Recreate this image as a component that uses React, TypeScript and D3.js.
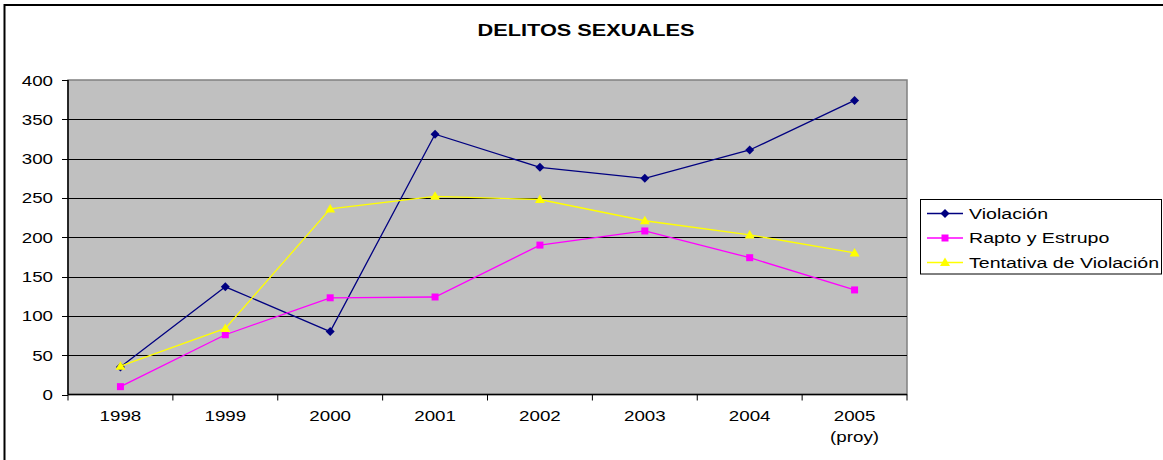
import React from "react";
import * as d3 from "d3";

const categories = ["1998", "1999", "2000", "2001", "2002", "2003", "2004", "2005"];
const categorySubLabels = ["", "", "", "", "", "", "", "(proy)"];
const violacion = [35, 137, 80, 331, 289, 275, 311, 374];
const raptoEstrupo = [10, 76, 123, 124, 190, 208, 174, 133];
const tentativa = [36, 84, 236, 252, 248, 221, 203, 180];
const yTicks = [0, 50, 100, 150, 200, 250, 300, 350, 400];
const seriesNames = ["Violación", "Rapto y Estrupo", "Tentativa de Violación"];
const chartTitle = "DELITOS SEXUALES";

const W = 1163;
const H = 460;
const SX = 1.34;
const FONT = "'Liberation Sans', Arial, sans-serif";

const plot = { left: 68, right: 907, top: 80, bottom: 394.5 };

function markerPath(kind: string): string {
  if (kind === "diamond") return "M0,-4.5L4.5,0L0,4.5L-4.5,0Z";
  if (kind === "square") return "M-3.5,-3.5H3.5V3.5H-3.5Z";
  return "M0,-5L5,3.5L-5,3.5Z";
}

function SText(props: {
  x: number;
  y: number;
  anchor?: string;
  size?: number;
  sx?: number;
  weight?: string | number;
  children: React.ReactNode;
}) {
  const { x, y, anchor = "start", size = 14, sx = SX, weight = "normal", children } = props;
  return (
    <text
      transform={`translate(${x},${y}) scale(${sx},1)`}
      textAnchor={anchor}
      fontFamily={FONT}
      fontSize={size}
      fontWeight={weight}
      fill="#000"
    >
      {children}
    </text>
  );
}

export default function App() {
  const x = d3.scaleBand<string>().domain(categories).range([plot.left, plot.right]).padding(0);
  const y = d3.scaleLinear().domain([0, 400]).range([plot.bottom, plot.top]);
  const cx = (c: string) => (x(c) as number) + x.bandwidth() / 2;

  const series = [
    { name: seriesNames[0], values: violacion, color: "#000080", marker: "diamond" },
    { name: seriesNames[1], values: raptoEstrupo, color: "#FF00FF", marker: "square" },
    { name: seriesNames[2], values: tentativa, color: "#FFFF00", marker: "triangle" },
  ];

  const line = d3
    .line<number>()
    .x((_, i) => cx(categories[i]))
    .y((d) => y(d));

  const boundaries = categories.map((c) => x(c) as number).concat([plot.right]);

  const legend = { x: 920.5, y: 199.5, w: 241, h: 74.5 };
  const legendRows = [213.5, 238, 262.5];

  return (
    <svg
      width={W}
      height={H}
      style={{ position: "absolute", left: 0, top: 0, background: "#fff" }}
    >
      <rect x={0} y={0} width={W} height={H} fill="#fff" />
      <rect x={4.5} y={5} width={W + 10} height={H + 10} fill="none" stroke="#000" strokeWidth={2} />

      <SText x={586} y={36} anchor="middle" size={16} sx={1.36} weight="bold">
        {chartTitle}
      </SText>

      {/* plot area */}
      <rect
        x={plot.left}
        y={plot.top}
        width={plot.right - plot.left}
        height={plot.bottom - plot.top}
        fill="#C0C0C0"
        stroke="#808080"
        strokeWidth={1.5}
      />
      {yTicks
        .filter((t) => t > 0 && t < 400)
        .map((t) => (
          <line
            key={"g" + t}
            x1={plot.left}
            x2={plot.right}
            y1={Math.round(y(t)) + 0.5}
            y2={Math.round(y(t)) + 0.5}
            stroke="#000"
            strokeWidth={1}
          />
        ))}

      {/* y axis */}
      <line x1={plot.left} x2={plot.left} y1={plot.top} y2={plot.bottom} stroke="#000" strokeWidth={1.5} />
      {yTicks.map((t) => (
        <g key={"yt" + t}>
          <line
            x1={plot.left - 6}
            x2={plot.left}
            y1={Math.round(y(t)) + 0.5}
            y2={Math.round(y(t)) + 0.5}
            stroke="#000"
            strokeWidth={1}
          />
          <SText x={53} y={y(t) + 5.5} anchor="end">
            {String(t)}
          </SText>
        </g>
      ))}

      {/* x axis */}
      <line x1={plot.left} x2={plot.right} y1={plot.bottom} y2={plot.bottom} stroke="#000" strokeWidth={1.5} />
      {boundaries.map((b, i) => (
        <line
          key={"xt" + i}
          x1={b}
          x2={b}
          y1={plot.bottom}
          y2={plot.bottom + 6}
          stroke="#000"
          strokeWidth={1}
        />
      ))}
      {categories.map((c, i) => (
        <g key={"xl" + c}>
          <SText x={cx(c)} y={421} anchor="middle">
            {c}
          </SText>
          {categorySubLabels[i] && (
            <SText x={cx(c)} y={442} anchor="middle">
              {categorySubLabels[i]}
            </SText>
          )}
        </g>
      ))}

      {/* series */}
      {series.map((s) => (
        <g key={s.name}>
          <path d={line(s.values) || ""} fill="none" stroke={s.color} strokeWidth={1.3} />
          {s.values.map((v, i) => (
            <path
              key={i}
              d={markerPath(s.marker)}
              transform={`translate(${cx(categories[i])},${y(v)})`}
              fill={s.color}
            />
          ))}
        </g>
      ))}

      {/* legend */}
      <rect x={legend.x} y={legend.y} width={legend.w} height={legend.h} fill="#fff" stroke="#000" strokeWidth={1} />
      {series.map((s, i) => (
        <g key={"lg" + s.name}>
          <line x1={927} x2={963} y1={legendRows[i]} y2={legendRows[i]} stroke={s.color} strokeWidth={1.3} />
          <path d={markerPath(s.marker)} transform={`translate(945,${legendRows[i]})`} fill={s.color} />
          <SText x={969} y={legendRows[i] + 5} anchor="start" size={14.5} sx={1.35}>
            {s.name}
          </SText>
        </g>
      ))}
    </svg>
  );
}
